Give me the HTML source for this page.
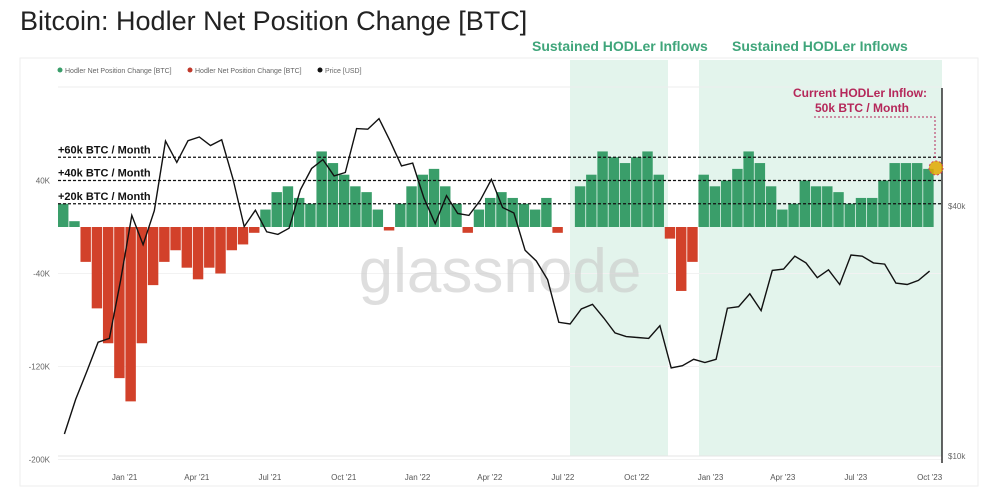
<!DOCTYPE html>
<html><head><meta charset="utf-8"><style>
body{margin:0;width:1000px;height:488px;background:#fff;overflow:hidden;font-family:"Liberation Sans",sans-serif;}
svg{position:absolute;left:0;top:0}
</style></head><body>
<svg id="c" width="1000" height="488"></svg>
<script>
const hodlerK=[20,5,-30,-70,-100,-130,-150,-100,-50,-30,-20,-35,-45,-35,-40,-20,-15,-5,15,30,35,25,20,65,55,45,35,30,15,-3,20,35,45,50,35,20,-5,15,25,30,25,20,15,25,-5,0,35,45,65,60,55,60,65,45,-10,-55,-30,45,35,40,50,65,55,35,15,20,40,35,35,30,20,25,25,40,55,55,55,50];
const priceK=[11.3,13.7,16.0,18.8,19.2,26.5,38.0,32.3,39.0,57.4,51.0,57.5,58.7,56.0,57.8,46.5,35.7,39.1,34.7,34.2,35.4,43.8,49.3,51.8,47.3,48.2,61.5,61.3,65.0,57.3,50.0,50.8,41.8,36.3,42.4,38.4,38.0,41.3,46.4,39.7,38.5,31.3,29.5,26.6,21.0,20.8,22.6,23.2,21.5,19.8,19.4,19.3,19.2,20.6,16.3,16.5,17.1,16.8,17.1,22.7,22.9,24.6,22.4,28.0,28.2,30.3,29.2,26.9,28.1,25.9,30.5,30.3,29.2,29.0,26.1,25.9,26.5,27.9];
const leftTicks=[40,-40,-120,-200];
const leftTickLabels=["40K","-40K","-120K","-200K"];
const xTickLabels=["Jan '21","Apr '21","Jul '21","Oct '21","Jan '22","Apr '22","Jul '22","Oct '22","Jan '23","Apr '23","Jul '23","Oct '23"];
const xTickDays=[83,173,264,356,448,538,629,721,813,903,994,1086];
const monthLines=[60,40,20];
const monthLabels=["+60k BTC / Month","+40k BTC / Month","+20k BTC / Month"];
const rightTicks=[40,10];
const rightTickLabels=["$40k","$10k"];

const NS="http://www.w3.org/2000/svg";
const svg=document.getElementById('c');
function el(t,a,p){const e=document.createElementNS(NS,t);for(const k in a)e.setAttribute(k,a[k]);(p||svg).appendChild(e);return e;}
const X0=58,PXD=0.8026;
const xDay=d=>X0+d*PXD;
const xIdx=i=>xDay(i*14);
const yL=v=>227-v*(46.5/40);
const yP=p=>456-Math.log10(p/10)*415;

let t=el('text',{x:20,y:30,'font-size':27,fill:'#222'});t.textContent="Bitcoin: Hodler Net Position Change [BTC]";

let p=el('rect',{x:20,y:58,width:958,height:428,fill:'#fff',stroke:'#eee'});

let s1=el('rect',{x:570,y:60,width:98,height:396,fill:'#e3f4ec'});

let s2=el('rect',{x:699,y:60,width:243,height:396,fill:'#e3f4ec'});

[[532,'inflow-label-1'],[732,'inflow-label-2']].forEach(([x,n])=>{const e=el('text',{x:x,y:51,'font-size':14,'font-weight':'bold',fill:'#3fa57a'});e.textContent="Sustained HODLer Inflows";
});
const leg=[["#3a9e6a","Hodler Net Position Change [BTC]",58],["#c0392b","Hodler Net Position Change [BTC]",188],["#111","Price [USD]",318]];
leg.forEach(([c,txt,x])=>{const g=el('g',{});
el('circle',{cx:x+2,cy:70,r:2.5,fill:c},g);const e=el('text',{x:x+7,y:73,'font-size':7,fill:'#666'},g);e.textContent=txt;});
el('line',{x1:58,y1:87,x2:942,y2:87,stroke:'#eee'});
leftTicks.forEach((v,i)=>{el('line',{x1:58,x2:942,y1:yL(v),y2:yL(v),stroke:'#f2f2f2'});
const e=el('text',{x:50,y:yL(v)+3,'font-size':8,fill:'#666','text-anchor':'end'});e.textContent=leftTickLabels[i];
});
el('line',{x1:58,x2:942,y1:456,y2:456,stroke:'#e5e5e5'});
const step=14*PXD;
hodlerK.forEach((v,i)=>{const x=xIdx(i),y0=yL(0),y1=yL(v);
const b=el('rect',{x:x,y:Math.min(y0,y1),width:step-0.8,height:Math.abs(y1-y0),fill:v>=0?'#3a9e6a':'#d2412a'});
});
let w=el('text',{x:500,y:292,'font-size':62,fill:'#c8c8c8','fill-opacity':0.6,'text-anchor':'middle'});w.textContent="glassnode";

monthLines.forEach((v,i)=>{const l=el('line',{x1:58,x2:942,y1:yL(v),y2:yL(v),stroke:'#111','stroke-width':1.3,'stroke-dasharray':'3,2'});

const e=el('text',{x:58,y:yL(v)-4,'font-size':11,'font-weight':'bold',fill:'#111'});e.textContent=monthLabels[i];
});
let d=priceK.map((v,i)=>(i?'L':'M')+xDay(i*14+8).toFixed(1)+','+yP(v).toFixed(1)).join('');
let pl=el('path',{d:d,fill:'none',stroke:'#111','stroke-width':1.4});

el('line',{x1:942,x2:942,y1:88,y2:463,stroke:'#111','stroke-width':1.3});
rightTicks.forEach((v,i)=>{const e=el('text',{x:948,y:yP(v)+3,'font-size':8,fill:'#666'});e.textContent=rightTickLabels[i];
});
xTickDays.forEach((dd,i)=>{const e=el('text',{x:xDay(dd),y:480,'font-size':8,fill:'#555','text-anchor':'middle'});e.textContent=xTickLabels[i];
});
const a1=el('text',{x:860,y:97,'font-size':12,'font-weight':'bold',fill:'#b5285a','text-anchor':'middle'});a1.textContent="Current HODLer Inflow:";

const a2=el('text',{x:862,y:112,'font-size':12,'font-weight':'bold',fill:'#b5285a','text-anchor':'middle'});a2.textContent="50k BTC / Month";

el('path',{d:'M814,117 H935 V160',fill:'none',stroke:'#b5285a','stroke-width':1,'stroke-dasharray':'2,2'});
let mk=el('circle',{cx:936,cy:168,r:7,fill:'#e0a800','fill-opacity':0.85,stroke:'#d04060','stroke-dasharray':'2,2'});

</script>
</body></html>
